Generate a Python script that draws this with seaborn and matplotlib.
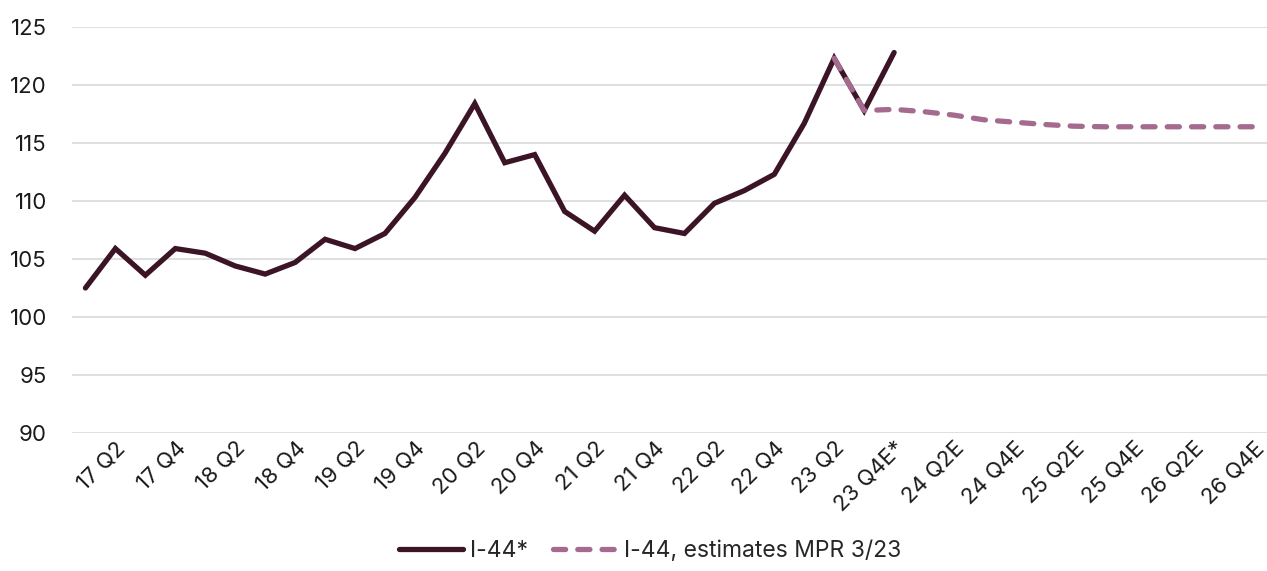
import numpy as np
import pandas as pd
import seaborn as sns
import matplotlib.pyplot as plt
from matplotlib.transforms import ScaledTranslation

# data
quarters = []
for yy in range(17, 27):
    for q in range(1, 5):
        lab = f"{yy} Q{q}"
        if (yy, q) == (23, 4):
            lab += "E*"
        elif (yy, q) > (23, 4):
            lab += "E"
        quarters.append(lab)

i44 = [102.5, 105.9, 103.6, 105.9, 105.5, 104.4, 103.7, 104.7, 106.7, 105.9,
       107.2, 110.3, 114.1, 118.4, 113.3, 114.0, 109.1, 107.4, 110.5, 107.7,
       107.2, 109.8, 110.9, 112.3, 116.7, 122.3, 117.8, 122.8]
est_start = 25
i44_est = [122.3, 117.8, 117.9, 117.7, 117.4, 117.0, 116.8, 116.6, 116.45,
           116.4, 116.4, 116.4, 116.4, 116.4, 116.4]

sns.set_theme(style="white")
plt.rcParams['font.family'] = ['Inter', 'DejaVu Sans']

df_act = pd.DataFrame({"x": np.arange(len(i44)), "y": i44})
df_est = pd.DataFrame({"x": np.arange(est_start, est_start + len(i44_est)), "y": i44_est})

fig = plt.figure(figsize=(12.67, 5.71), dpi=100)
ax = fig.add_axes([0.0568, 0.2417, 0.9432, 0.711])

sns.lineplot(data=df_act, x="x", y="y", ax=ax, color="#3b1426", linewidth=3.8,
             label="I-44*", solid_capstyle="round", solid_joinstyle="miter")
sns.lineplot(data=df_est, x="x", y="y", ax=ax, color="#a56b8f", linewidth=3.8,
             label="I-44, estimates MPR 3/23", dash_capstyle="round")
ax.lines[1].set_dashes((2.3, 2.3))

ax.set_ylim(90, 125)
ax.set_yticks(range(90, 126, 5))
ax.set_xlim(-0.45, 39.45)
ax.yaxis.grid(True, color="#d9d9d9", linewidth=1.2)
ax.xaxis.grid(False)
for s in ax.spines.values():
    s.set_visible(False)

ticks = list(range(1, len(quarters), 2))
ax.set_xticks(ticks)
ax.set_xticklabels([quarters[i] for i in ticks], rotation=45, ha="right",
                   va="top", rotation_mode="anchor")
off = ScaledTranslation(1 / 100, -22 / 100, fig.dpi_scale_trans)
for lab in ax.get_xticklabels():
    lab.set_transform(lab.get_transform() + off)
ax.tick_params(axis="both", length=0, labelsize=16, colors="#1a1a1a")
ax.tick_params(axis="y", pad=18)
ax.set_xlabel("")
ax.set_ylabel("")

h, l = ax.get_legend_handles_labels()
ax.get_legend().remove()
fig.legend(h, l, loc="lower center", bbox_to_anchor=(0.513, -0.02), ncol=2,
           frameon=False, fontsize=16.5, handlelength=2.8, columnspacing=1.1,
           handletextpad=0.3)

fig.savefig("out.png", dpi=100)
